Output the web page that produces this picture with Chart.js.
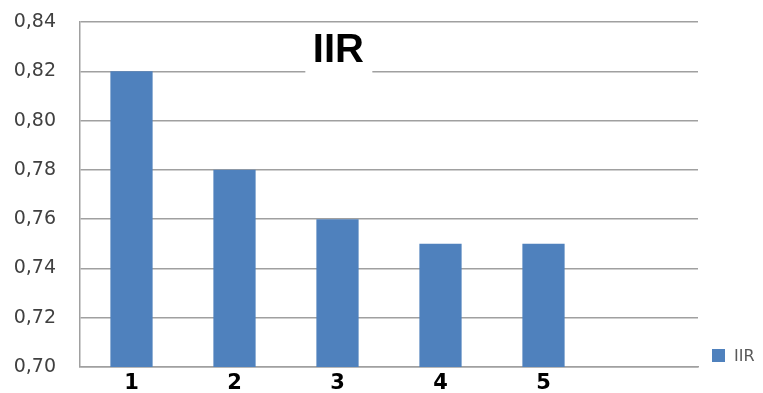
<!DOCTYPE html>
<html>
<head>
<meta charset="utf-8">
<script src="https://cdn.jsdelivr.net/npm/chart.js@4/dist/chart.umd.min.js"></script>
<style>
  html, body { margin: 0; padding: 0; background: #ffffff; }
  canvas { display: block; }
</style>
</head>
<body>
<canvas id="c" width="763" height="393"></canvas>
<script>
// Categories along the x axis (last slot left empty)
const categories = ['1', '2', '3', '4', '5', ''];
// IIR values per category
const iirValues = [0.82, 0.78, 0.76, 0.75, 0.75, null];
// Value axis range and step
const yMin = 0.70;
const yMax = 0.84;
const yStep = 0.02;
const seriesName = 'IIR';
const chartTitle = 'IIR';

const barColor = '#4F81BD';
const gridColor = '#a0a0a0';

// Title drawn inside the plot on a white patch that breaks the gridline under it
const insetTitle = {
  id: 'insetTitle',
  afterDatasetsDraw(chart) {
    const { ctx, chartArea } = chart;
    const cx = chartArea.left + (chartArea.right - chartArea.left) * 0.418;
    const cy = chartArea.top + 29;
    ctx.save();
    ctx.fillStyle = '#ffffff';
    ctx.fillRect(cx - 33, chartArea.top + 6, 67, 46);
    ctx.fillStyle = '#000000';
    ctx.font = 'bold 40px "Liberation Sans", Arial, sans-serif';
    ctx.textAlign = 'center';
    ctx.textBaseline = 'middle';
    ctx.fillText(chartTitle, cx, cy);
    ctx.restore();
  }
};

// Single-entry legend placed to the right of the plot, level with its bottom
const sideLegend = {
  id: 'sideLegend',
  afterDraw(chart) {
    const { ctx, chartArea } = chart;
    const ds = chart.data.datasets[0];
    const x = chartArea.right + 14;
    const y = chartArea.bottom - 11;
    ctx.save();
    ctx.fillStyle = ds.backgroundColor;
    ctx.fillRect(x, y - 7, 13, 13);
    ctx.fillStyle = '#595959';
    ctx.font = '16px "DejaVu Sans", sans-serif';
    ctx.textAlign = 'left';
    ctx.textBaseline = 'middle';
    ctx.fillText(ds.label, x + 22, y + 0.5);
    ctx.restore();
  }
};

new Chart(document.getElementById('c'), {
  type: 'bar',
  data: {
    labels: categories,
    datasets: [{
      label: seriesName,
      data: iirValues,
      backgroundColor: barColor,
      borderWidth: 0,
      categoryPercentage: 1,
      barPercentage: 0.41
    }]
  },
  options: {
    responsive: false,
    animation: false,
    layout: { padding: { left: 0, right: 65, top: 22, bottom: 0 } },
    plugins: {
      legend: { display: false },
      title: { display: false },
      tooltip: { enabled: false }
    },
    scales: {
      x: {
        grid: { display: true, color: 'transparent', drawTicks: false },
        border: { display: true, color: gridColor, width: 1.5 },
        ticks: {
          color: '#000000',
          font: { family: '"DejaVu Sans", sans-serif', size: 21, weight: 'bold' },
          padding: 4,
          maxRotation: 0
        },
        afterFit(scale) {
          scale.height = 26;
          scale.paddingLeft = 0;
          scale.paddingRight = 0;
        }
      },
      y: {
        min: yMin,
        max: yMax,
        grid: { color: gridColor, lineWidth: 1.5, drawTicks: false },
        border: { display: true, color: gridColor, width: 1.5 },
        ticks: {
          stepSize: yStep,
          color: '#404040',
          padding: 24,
          font: { family: '"DejaVu Sans", sans-serif', size: 19 },
          callback: (v) => Number(v).toFixed(2).replace('.', ',')
        },
        afterFit(scale) {
          scale.width = 80;
          scale.paddingTop = 0;
          scale.paddingBottom = 0;
        }
      }
    }
  },
  plugins: [insetTitle, sideLegend]
});
</script>
</body>
</html>
